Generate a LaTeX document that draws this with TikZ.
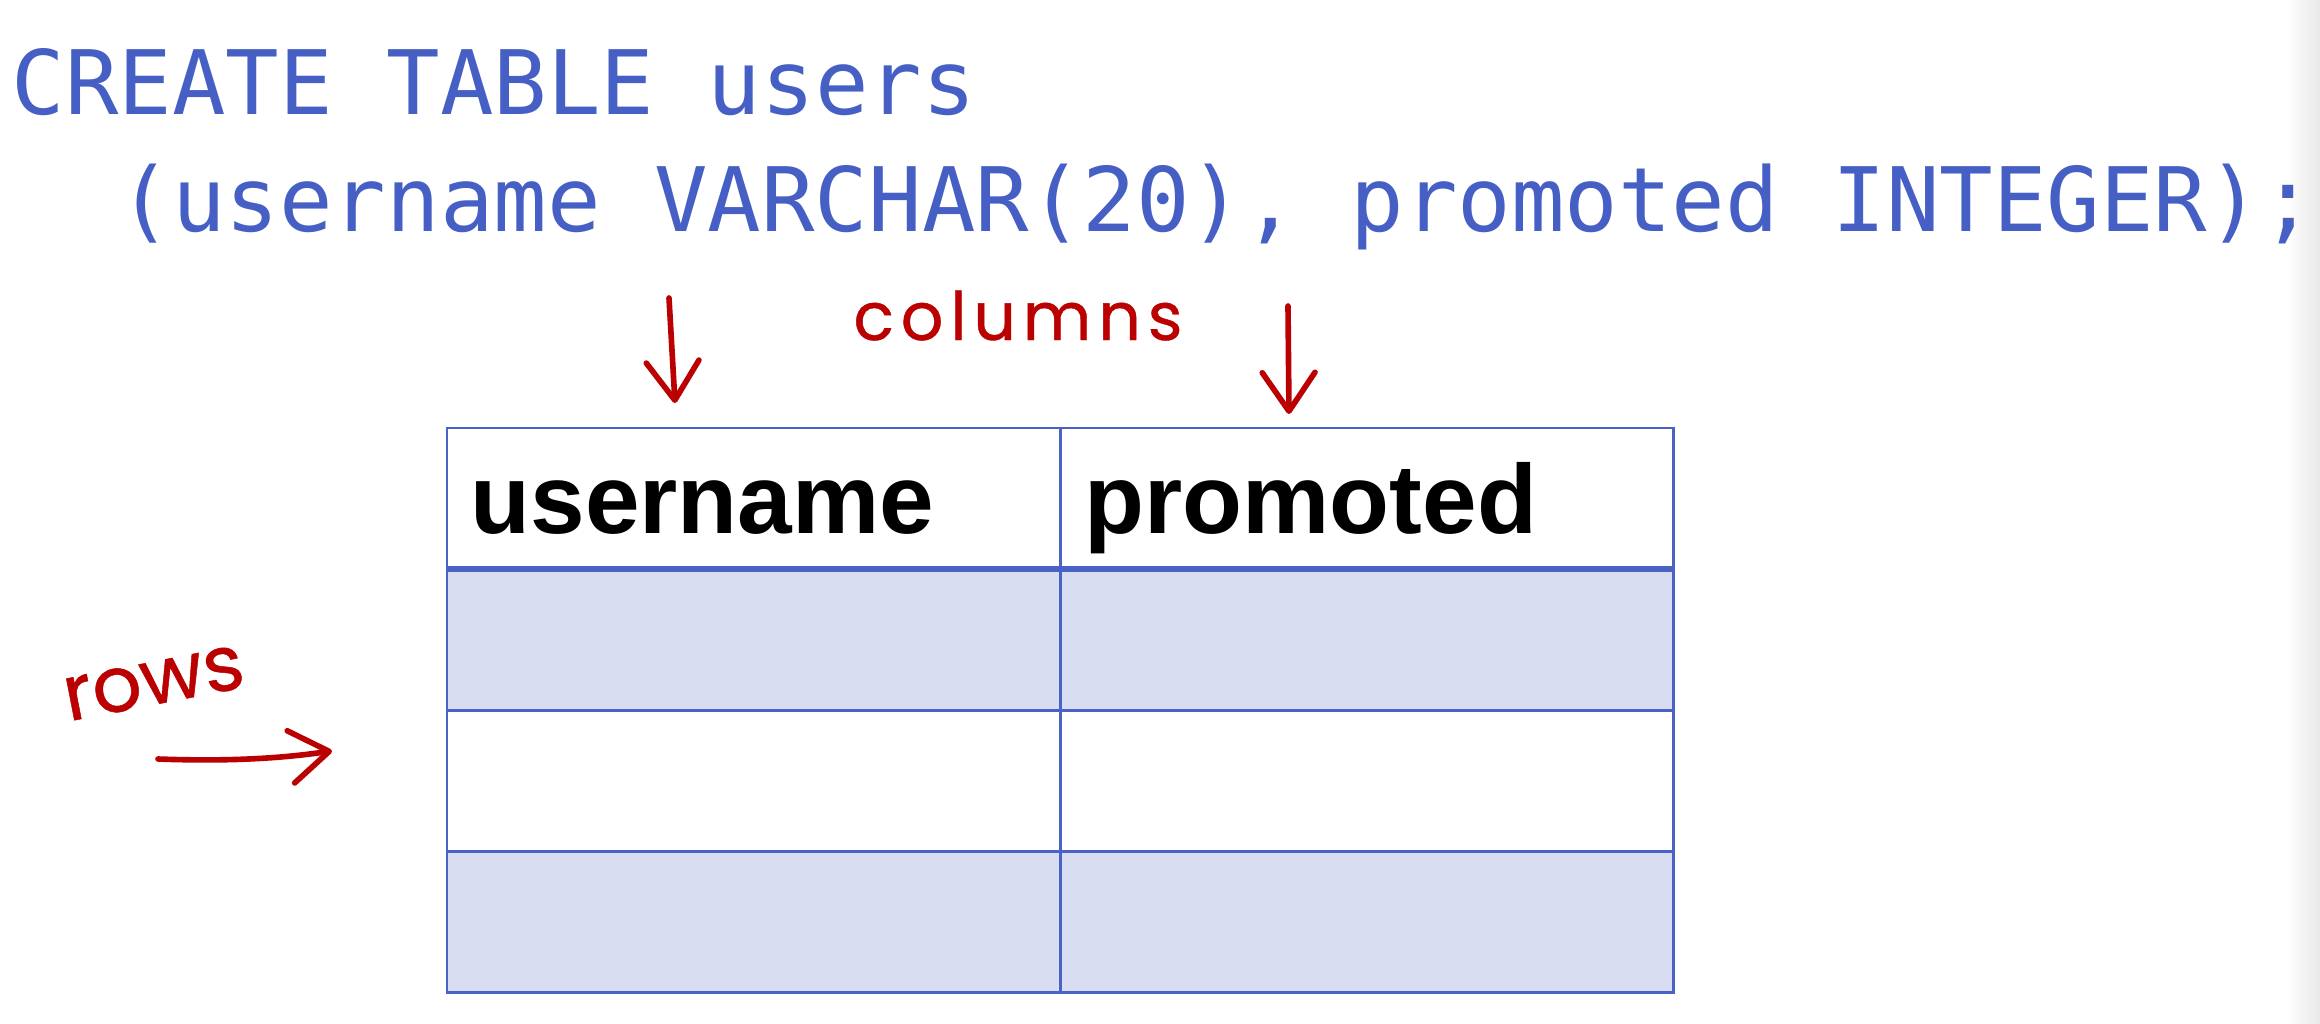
\documentclass[tikz,border=0pt]{standalone}
\usepackage{fontspec}
\usetikzlibrary{positioning,arrows.meta}
\newfontfamily\sqlfont{DejaVu Sans Mono}
\newfontfamily\headfont{Liberation Sans}
\newfontfamily\handfont[FakeBold=0.6]{Poppins}
\definecolor{sqlblue}{RGB}{70,95,196}
\definecolor{gridblue}{RGB}{74,98,198}
\definecolor{rowfill}{RGB}{216,221,242}
\definecolor{inkred}{RGB}{186,0,0}

\begin{document}
\begin{tikzpicture}[x=0.01cm,y=-0.01cm,
    sql line/.style={font=\sqlfont\fontsize{25.3}{30}\selectfont, text=sqlblue, inner sep=0pt, anchor=base west},
    cell/.style={draw=gridblue, line width=0.8pt, minimum width=6.13cm, minimum height=1.41cm, inner sep=0pt, outer sep=0pt},
    shaded cell/.style={cell, fill=rowfill},
    head text/.style={font=\headfont\bfseries\fontsize{27.9}{32}\selectfont, inner sep=0pt, anchor=base west},
    ink/.style={text=inkred, inner sep=0pt, anchor=base, font=\handfont\fontsize{19}{22}\selectfont},
    ink arrow/.style={draw=inkred, line width=1.6pt, line cap=round, -{Straight Barb[length=11pt,width=15pt,round]}}]

    \useasboundingbox (0,0) rectangle (2320,1024);
    \shade[left color=white, right color=black!9] (2286,0) rectangle (2320,1024);

    % the statement
    \node[sql line] (create) at (11,114) {CREATE TABLE users};
    \node[sql line] (coldefs) at (118,231) {(username VARCHAR(20), promoted INTEGER);};

    % the table
    \node[cell, anchor=north west] (h1) at (447,428) {};
    \node[cell] (h2) [right=0pt of h1] {};
    \node[shaded cell] (a1) [below=0pt of h1] {};
    \node[shaded cell] (a2) [right=0pt of a1] {};
    \node[cell] (b1) [below=0pt of a1] {};
    \node[cell] (b2) [right=0pt of b1] {};
    \node[shaded cell] (c1) [below=0pt of b1] {};
    \node[shaded cell] (c2) [right=0pt of c1] {};
    \draw[gridblue, line width=1.8pt] (h1.south west) -- (h2.south east);

    \node[head text] (uname) at (470,533) {username};
    \node[head text] (promo) at (1084,533) {promoted};

    % notes
    \node[ink] (collabel) at (1018,340) {\addfontfeatures{LetterSpace=10}columns};
    \node[ink, font=\handfont\fontsize{22}{25}\selectfont, rotate=11] (rowlabel) at (158,704) {rows};

    \coordinate (col1 top) at (669,298);
    \coordinate (col1 tip) at (675,403);
    \coordinate (col2 top) at (1288,306);
    \coordinate (col2 tip) at (1289,414);
    \coordinate (row tail) at (158,759);
    \coordinate (row tip) at (332,751);

    \draw[ink arrow] (col1 top) -- (col1 tip);
    \draw[ink arrow] (col2 top) -- (col2 tip);
    \draw[ink arrow] (row tail) .. controls (240,762) and (290,757) .. (row tip);
\end{tikzpicture}
\end{document}
